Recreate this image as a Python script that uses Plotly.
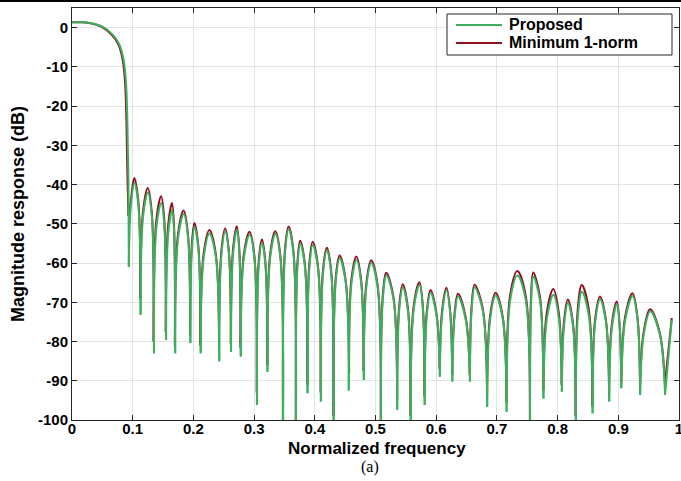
import plotly.graph_objects as go

# ---------------- data ----------------
# Passband / transition band
prop_pass_x = [0.0, 0.013, 0.029, 0.051, 0.067, 0.078, 0.085, 0.089, 0.091, 0.092, 0.093]
prop_pass_y = [1.35, 1.35, 1.2, 0.2, -1.8, -4.3, -8.2, -14.1, -22.6, -31.0, -38.8]

mn_pass_x = [0.0, 0.013, 0.028, 0.049, 0.065, 0.0765, 0.0835, 0.0875, 0.0895, 0.0905, 0.0915]
mn_pass_y = [1.35, 1.35, 1.2, 0.2, -1.8, -4.3, -8.2, -14.1, -22.6, -31.0, -38.8]

# ---- Proposed: stopband nulls ----
prop_null_x = [0.0936, 0.113, 0.135, 0.155, 0.170, 0.195, 0.212, 0.2426, 0.262, 0.278,
               0.3047, 0.322, 0.3477, 0.369, 0.388, 0.410, 0.431, 0.456, 0.4807, 0.509,
               0.5358, 0.558, 0.581, 0.606, 0.6266, 0.6556, 0.684, 0.716, 0.7546, 0.7767,
               0.807, 0.830, 0.8576, 0.885, 0.905, 0.936, 0.977]
prop_null_y = [-61.0, -73.2, -83.0, -79.6, -83.0, -80.4, -83.0, -85.0, -82.6, -83.8,
               -96.2, -87.7, -104.0, -103.0, -93.2, -95.3, -102.0, -92.5, -89.8, -103.0,
               -97.4, -102.0, -96.2, -89.0, -90.2, -90.2, -96.6, -97.9, -103.0, -94.5,
               -92.8, -102.0, -98.3, -95.3, -91.9, -93.6, -93.6]
# ---- Proposed: sidelobe peaks ----
prop_peak_x = [0.103, 0.125, 0.147, 0.165, 0.184, 0.2018, 0.2266, 0.2525, 0.2717, 0.2926,
               0.313, 0.335, 0.357, 0.376, 0.3966, 0.420, 0.441, 0.4686, 0.493, 0.518,
               0.545, 0.5726, 0.5908, 0.617, 0.636, 0.6634, 0.698, 0.7338, 0.760, 0.793,
               0.817, 0.840, 0.870, 0.8977, 0.9236, 0.9527]
prop_peak_y = [-39.6, -42.0, -44.7, -46.5, -47.5, -50.8, -52.5, -52.0, -51.5, -52.8,
               -54.8, -52.6, -51.4, -55.0, -55.4, -56.8, -58.8, -59.2, -60.0, -63.2,
               -66.2, -65.6, -67.6, -67.0, -68.5, -66.2, -68.3, -63.2, -63.5, -68.1,
               -70.2, -67.3, -69.2, -70.5, -68.4, -72.3]
# ---- Proposed: lobe shoulders (left / right flank of each sidelobe) ----
prop_shl_x = [0.0969, 0.1172, 0.1392, 0.1585, 0.1749, 0.1974, 0.2171, 0.2461, 0.2654, 0.2831,
              0.3076, 0.3265, 0.3510, 0.3714, 0.3910, 0.4135, 0.4345, 0.4604, 0.4850, 0.5121,
              0.5390, 0.5631, 0.5844, 0.6098, 0.6299, 0.6583, 0.6889, 0.7222, 0.7565, 0.7824,
              0.8105, 0.8335, 0.8619, 0.8894, 0.9115, 0.9418]
prop_shr_x = [0.1095, 0.1315, 0.1522, 0.1683, 0.1912, 0.2084, 0.2370, 0.2587, 0.2758, 0.3005,
              0.3189, 0.3433, 0.3648, 0.3838, 0.4053, 0.4272, 0.4508, 0.4765, 0.5034, 0.5296,
              0.5535, 0.5781, 0.6007, 0.6232, 0.6487, 0.6768, 0.7097, 0.7473, 0.7709, 0.8021,
              0.8255, 0.8514, 0.8798, 0.9024, 0.9317, 0.9685]
prop_sh_y = [-45.6, -48.0, -50.7, -52.5, -53.5, -56.8, -58.5, -58.0, -57.5, -58.8,
             -60.8, -58.6, -57.4, -61.0, -61.4, -62.8, -64.8, -65.2, -66.0, -69.2,
             -72.2, -71.6, -73.6, -73.0, -74.5, -72.2, -74.3, -69.2, -69.5, -74.1,
             -76.2, -73.3, -75.2, -76.5, -74.4, -78.3]
prop_end_x = 0.988
prop_end_y = -74.5

# ---- Minimum 1-norm ----
mn_null_x = [0.093, 0.1125, 0.1345, 0.1545, 0.1695, 0.1945, 0.2115, 0.2422, 0.2617, 0.2777,
             0.3045, 0.3218, 0.3475, 0.3688, 0.3878, 0.4098, 0.4308, 0.4565, 0.4805, 0.5088,
             0.5356, 0.5578, 0.5808, 0.6058, 0.6264, 0.6554, 0.6838, 0.7158, 0.7544, 0.7765,
             0.8068, 0.8298, 0.8574, 0.8848, 0.9048, 0.9358, 0.9768]
mn_null_y = [-48.0, -69.0, -80.0, -77.5, -81.0, -78.5, -81.0, -82.0, -80.5, -81.5,
             -93.0, -86.0, -101.0, -100.0, -91.0, -93.0, -99.0, -88.0, -87.5, -100.0,
             -95.0, -99.0, -94.0, -87.0, -88.5, -88.5, -94.5, -95.5, -100.0, -92.5,
             -91.0, -99.0, -96.5, -93.5, -90.5, -92.0, -91.0]
mn_peak_x = [0.1025, 0.1247, 0.1468, 0.1648, 0.1838, 0.2016, 0.2264, 0.2523, 0.2715, 0.2924,
             0.3128, 0.3348, 0.3568, 0.3758, 0.3964, 0.4198, 0.4408, 0.4684, 0.4928, 0.5178,
             0.5448, 0.5724, 0.5906, 0.6168, 0.6358, 0.6632, 0.6978, 0.7336, 0.7598, 0.7928,
             0.8168, 0.8398, 0.8698, 0.8975, 0.9234, 0.9525]
mn_peak_y = [-38.3, -40.9, -43.0, -44.7, -46.6, -49.8, -51.6, -51.2, -50.6, -52.0,
             -54.0, -51.9, -50.7, -54.3, -54.6, -56.1, -58.1, -58.3, -59.3, -62.5,
             -65.4, -64.9, -66.9, -66.3, -67.8, -65.5, -67.6, -62.0, -62.4, -66.6,
             -69.3, -65.6, -68.5, -69.8, -67.7, -71.8]
mn_shl_x = [0.0967, 0.1170, 0.1390, 0.1583, 0.1747, 0.1972, 0.2169, 0.2459, 0.2652, 0.2829,
            0.3074, 0.3263, 0.3508, 0.3712, 0.3908, 0.4133, 0.4343, 0.4602, 0.4848, 0.5119,
            0.5388, 0.5629, 0.5842, 0.6096, 0.6297, 0.6581, 0.6887, 0.7220, 0.7563, 0.7822,
            0.8103, 0.8333, 0.8617, 0.8892, 0.9113, 0.9416]
mn_shr_x = [0.1093, 0.1313, 0.1520, 0.1681, 0.1910, 0.2082, 0.2368, 0.2585, 0.2756, 0.3003,
            0.3187, 0.3431, 0.3646, 0.3836, 0.4051, 0.4270, 0.4506, 0.4763, 0.5032, 0.5294,
            0.5533, 0.5779, 0.6005, 0.6230, 0.6485, 0.6766, 0.7095, 0.7471, 0.7707, 0.8019,
            0.8253, 0.8512, 0.8796, 0.9022, 0.9315, 0.9683]
mn_sh_y = [-44.3, -46.9, -49.0, -50.7, -52.6, -55.8, -57.6, -57.2, -56.6, -58.0,
           -60.0, -57.9, -56.7, -60.3, -60.6, -62.1, -64.1, -64.3, -65.3, -68.5,
           -71.4, -70.9, -72.9, -72.3, -73.8, -71.5, -73.6, -68.0, -68.4, -72.6,
           -75.3, -71.6, -74.5, -75.8, -73.7, -77.8]
mn_end_x = 0.988
mn_end_y = -74.0

series_names = ["Proposed", "Minimum 1-norm"]
x_ticks = [0, 0.1, 0.2, 0.3, 0.4, 0.5, 0.6, 0.7, 0.8, 0.9, 1]
x_tick_text = ["0", "0.1", "0.2", "0.3", "0.4", "0.5", "0.6", "0.7", "0.8", "0.9", "1"]
y_ticks = [0, -10, -20, -30, -40, -50, -60, -70, -80, -90, -100]
y_tick_text = ["0", "-10", "-20", "-30", "-40", "-50", "-60", "-70", "-80", "-90", "-100"]


def build(pass_x, pass_y, null_x, null_y, peak_x, peak_y, shl_x, shr_x, sh_y, end_x, end_y):
    """Arrange the read points into one path per sidelobe (gaps between them)."""
    xs = list(pass_x) + [null_x[0], None]
    ys = list(pass_y) + [null_y[0], None]
    for i in range(len(peak_x)):
        xs += [null_x[i], shl_x[i], peak_x[i], shr_x[i], null_x[i + 1], None]
        ys += [null_y[i], sh_y[i], peak_y[i], sh_y[i], null_y[i + 1], None]
    xs += [null_x[-1], end_x]
    ys += [null_y[-1], end_y]
    return xs, ys


GREEN = "#3db060"
RED = "#8c1222"
FONT = "Liberation Sans, Arial, sans-serif"

fig = go.Figure()
mx, my = build(mn_pass_x, mn_pass_y, mn_null_x, mn_null_y, mn_peak_x, mn_peak_y,
               mn_shl_x, mn_shr_x, mn_sh_y, mn_end_x, mn_end_y)
fig.add_trace(go.Scatter(x=mx, y=my, mode="lines", name=series_names[1], showlegend=False,
                         line=dict(color=RED, width=2, shape="spline", smoothing=1.0),
                         connectgaps=False))
gx, gy = build(prop_pass_x, prop_pass_y, prop_null_x, prop_null_y, prop_peak_x, prop_peak_y,
               prop_shl_x, prop_shr_x, prop_sh_y, prop_end_x, prop_end_y)
fig.add_trace(go.Scatter(x=gx, y=gy, mode="lines", name=series_names[0], showlegend=False,
                         line=dict(color=GREEN, width=2, shape="spline", smoothing=1.0),
                         connectgaps=False))

axis_common = dict(
    showline=True, linecolor="#262626", linewidth=1, mirror="ticks",
    ticks="inside", ticklen=5, tickcolor="#262626",
    showgrid=True, gridcolor="#e3e3e3", gridwidth=1, zeroline=False,
    tickfont=dict(family=FONT, size=15, color="black", weight="bold"),
    automargin=False, ticklabeloverflow="allow",
)

fig.update_layout(
    template="none",
    width=681, height=481,
    margin=dict(l=72, r=2, t=8, b=61),
    paper_bgcolor="white", plot_bgcolor="white",
    font=dict(family=FONT, color="black"),
    xaxis=dict(range=[0, 1], tickvals=x_ticks, ticktext=x_tick_text,
               ticklabelstandoff=-5, **axis_common),
    yaxis=dict(range=[-100, 5], tickvals=y_ticks, ticktext=y_tick_text,
               title=dict(text="Magnitude response (dB)", standoff=8,
                          font=dict(family=FONT, size=18, weight="bold")),
               **axis_common),
    showlegend=False,
)

# ---- helpers: pixel position -> paper coordinates of the plot area ----
PW, PH = 607.0, 412.0
def px_x(p):
    return (p - 72) / PW
def px_y(p):
    return (420 - p) / PH

# x-axis title
fig.add_annotation(text="Normalized frequency", xref="paper", yref="paper",
                   x=px_x(377), y=px_y(448), xanchor="center", yanchor="middle",
                   showarrow=False, font=dict(family=FONT, size=17, color="black", weight="bold"))

# ---- legend box ----
fig.add_shape(type="rect", xref="paper", yref="paper",
              x0=px_x(447), x1=px_x(672), y0=px_y(55), y1=px_y(14),
              line=dict(color="#262626", width=1), fillcolor="white", layer="above")
for row, (name, col) in enumerate([(series_names[0], GREEN), (series_names[1], RED)]):
    yy = px_y(25 + 18 * row)
    fig.add_shape(type="line", xref="paper", yref="paper",
                  x0=px_x(456), x1=px_x(502), y0=yy, y1=yy,
                  line=dict(color=col, width=2), layer="above")
    fig.add_annotation(text=name, xref="paper", yref="paper", x=px_x(507), y=yy,
                       xanchor="left", yanchor="middle", showarrow=False,
                       font=dict(family=FONT, size=16, color="black", weight="bold"))

# caption below the axes
fig.add_annotation(text="(a)", xref="paper", yref="paper", x=px_x(370), y=px_y(467),
                   xanchor="center", yanchor="middle", showarrow=False,
                   font=dict(family="Liberation Serif, Times New Roman, serif", size=16, color="black"))

# page border line at the very top
fig.add_shape(type="line", xref="paper", yref="paper",
              x0=px_x(0), x1=px_x(681), y0=px_y(1), y1=px_y(1),
              line=dict(color="black", width=2))

fig.write_html("out.html")
